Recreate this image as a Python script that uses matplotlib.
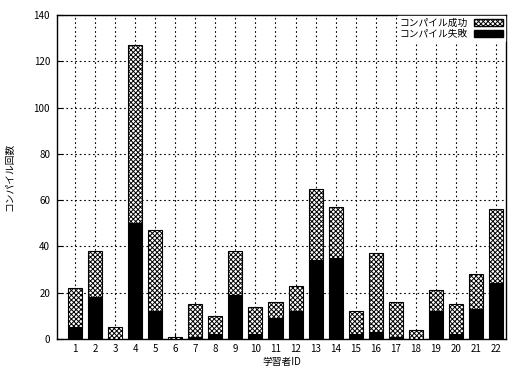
import matplotlib
matplotlib.use("Agg")
import matplotlib.pyplot as plt
import numpy as np
from matplotlib.patches import Patch

plt.rcParams['font.family'] = ['Noto Sans CJK JP', 'DejaVu Sans']
plt.rcParams['hatch.linewidth'] = 0.7

# learner ids and compile counts
ids = np.arange(1, 23)
total = [22, 38, 5, 127, 47, 1, 15, 10, 38, 14, 16, 23, 65, 57, 12, 37, 16, 4, 21, 15, 28, 56]
fail = [5, 18, 0, 50, 12, 0, 1, 2, 19, 2, 9, 12, 34, 35, 2, 3, 1, 0, 12, 2, 13, 24]
success = [t - f for t, f in zip(total, fail)]

fig = plt.figure(figsize=(5.15, 3.69), dpi=100)
ax = fig.add_axes([57/515, 30/369, 449/515, 324/369])

ax.bar(ids, fail, width=0.7, color='black', edgecolor='black', linewidth=0.8, zorder=3)
ax.bar(ids, success, bottom=fail, width=0.7, color='white', edgecolor='black',
       hatch='xxxxxxx', linewidth=0.8, zorder=3)

ax.set_xlim(0.1, 22.5)
ax.set_ylim(0, 140)
ax.set_xticks(ids)
ax.set_yticks(np.arange(0, 141, 20))
ax.tick_params(labelsize=7, direction='in', length=4)
ax.tick_params(axis='y', pad=5)
ax.grid(True, linestyle=(0, (1.5, 2.5)), color='black', linewidth=0.8, zorder=0)
for s in ax.spines.values():
    s.set_linewidth(1.0)

ax.set_xlabel('学習者ID', fontsize=7, labelpad=2)
ax.set_ylabel('コンパイル回数', fontsize=7, labelpad=14)

handles = [Patch(facecolor='white', edgecolor='black', hatch='xxxxxxx', label='コンパイル成功'),
           Patch(facecolor='black', edgecolor='black', label='コンパイル失敗')]
leg = ax.legend(handles=handles, loc='upper right', fontsize=7, frameon=True, markerfirst=False,
                handlelength=3.0, handleheight=0.8, handletextpad=0.6, labelspacing=0.1,
                borderaxespad=0.1, borderpad=0.2, framealpha=1, fancybox=False)
leg.get_frame().set_edgecolor('white')
leg.set_zorder(5)

fig.savefig('out.png', dpi=100)
